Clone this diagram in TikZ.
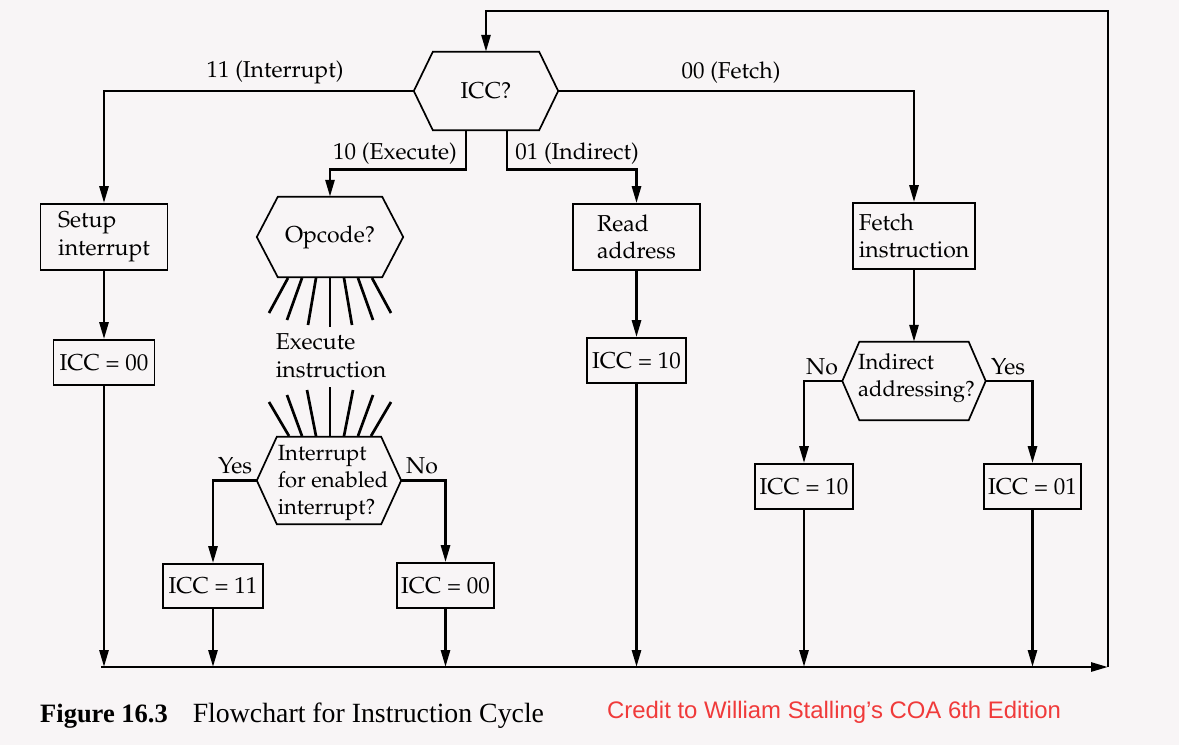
\documentclass[tikz,border=0pt]{standalone}
\usepackage[T1]{fontenc}
\usepackage{fontspec}
\newfontfamily\capfont{Liberation Serif}
\newfontfamily\creditfont{Liberation Sans}
\usetikzlibrary{arrows.meta,calc}
\definecolor{paper}{RGB}{248,245,246}
\definecolor{creditred}{RGB}{240,58,58}
\newcommand{\palfont}{\fontsize{23}{27.5}\usefont{T1}{ppl}{m}{n}}
\newcommand{\palsmall}{\fontsize{22}{27}\usefont{T1}{ppl}{m}{n}}
\newcommand{\hexof}[2]{\draw[boxline] (#1.west) -- ([xshift=#2]#1.north west) -- ([xshift=-#2]#1.north east) -- (#1.east) -- ([xshift=-#2]#1.south east) -- ([xshift=#2]#1.south west) -- cycle;}
\tikzset{
  boxline/.style={line width=1.7pt, line join=miter},
  box/.style 2 args={draw, boxline, minimum width=#1, minimum height=#2, inner sep=0pt, align=left, font=\palfont},
  hexn/.style 2 args={minimum width=#1, minimum height=#2, inner sep=0pt, align=left, font=\palfont},
  txt/.style={inner sep=0pt, align=left, font=\palfont},
  hextxt/.style={inner sep=0pt, align=left, font=\palsmall},
  lab/.style={inner sep=0pt, font=\palfont},
  conn/.style={line width=2.7pt},
  arr/.style={conn, -{Triangle[length=17pt,width=9pt]}},
  ray/.style={line width=2.7pt},
}
\begin{document}
\begin{tikzpicture}[x=1pt,y=-1pt]
\fill[paper] (0,0) rectangle (1179,745);
\useasboundingbox (0,0) rectangle (1179,745);

% decision and process nodes
\node[hexn={144pt}{78pt}] (icc) at (486,91) {ICC?};
\hexof{icc}{19pt}
\node[hexn={146pt}{80pt}] (opc) at (330,237) {Opcode?};
\hexof{opc}{21pt}
\node[box={127pt}{66pt}] (setup) at (104,237) {Setup\\interrupt};
\node[box={101pt}{45pt}] (c00a) at (104,362.5) {ICC = 00};
\node[box={127pt}{66pt}] (read) at (636.5,237) {Read\\address};
\node[box={99pt}{45pt}] (c10a) at (636.5,360.5) {ICC = 10};
\node[box={122pt}{66pt}] (fetch) at (914,236) {Fetch\\instruction};
\node[hexn={143pt}{78pt}] (ind) at (914,381) {};
\hexof{ind}{17pt}
\node[hextxt] (indtxt) at (916.5,378) {Indirect\\addressing?};
\node[box={98pt}{45pt}] (c10b) at (804,486.5) {ICC = 10};
\node[box={97pt}{45pt}] (c01) at (1032.5,486.5) {ICC = 01};
\node[txt] (exec) at (331,356) {Execute\\instruction};
\node[hexn={144pt}{87pt}] (intr) at (329,480.5) {};
\hexof{intr}{20pt}
\node[hextxt] (intrtxt) at (333,483) {Interrupt\\for enabled\\interrupt?};
\node[box={100pt}{44pt}] (c11) at (213,586) {ICC = 11};
\node[box={97pt}{45pt}] (c00b) at (445.5,585.5) {ICC = 00};

% labels
\node[lab] (l11) at (275,72) {11 (Interrupt)};
\node[lab] (l00) at (731,73) {00 (Fetch)};
\node[lab] (l10) at (395,154) {10 (Execute)};
\node[lab] (l01) at (577,154) {01 (Indirect)};
\node[lab] (lyes1) at (235,466) {Yes};
\node[lab] (lno1) at (422,466) {No};
\node[lab] (lno2) at (822,367) {No};
\node[lab] (lyes2) at (1008,367) {Yes};

% rays between Opcode? and Execute instruction
\foreach \a/\b/\yb in {-42/-61/313, -28/-43/320, -14/-22/325, 0/0/327, 14/22/325, 28/43/320, 42/61/313}{
  \draw[ray] (330+\a,278) -- (330+\b,\yb);
}
% rays between Execute instruction and interrupt decision
\foreach \a/\b/\yt in {-41/-61/402, -28/-43/395, -14/-23/390, 0/0/387, 14/23/390, 28/43/395, 41/61/402}{
  \draw[ray] (330+\a,436) -- (330+\b,\yt);
}

% coordinates of the return loop
\coordinate (bl) at (101,667);
\coordinate (br) at (1108,667);
\coordinate (tr) at (1108,11);

% connectors from ICC?
\draw[arr] (icc.west) -| (setup.north);
\draw[arr] (icc.east) -| (fetch.north);
\draw[arr] ([xshift=-20pt]icc.south) -- ++(0,39) -| (opc.north);
\draw[arr] ([xshift=21pt]icc.south) -- ++(0,39) -| (read.north);

% vertical flows
\draw[arr] (setup.south) -- (c00a.north);
\draw[arr] (read.south) -- (c10a.north);
\draw[arr] (fetch.south) -- (ind.north);
\draw[arr] (ind.west) -| (c10b.north);
\draw[arr] (ind.east) -| (c01.north);
\draw[arr] (intr.west) -| (c11.north);
\draw[arr] (intr.east) -| (c00b.north);

% into the bottom line
\draw[arr] (c00a.south) -- (c00a.south |- bl);
\draw[arr] (c11.south) -- (c11.south |- bl);
\draw[arr] (c00b.south) -- (c00b.south |- bl);
\draw[arr] (c10a.south) -- (c10a.south |- bl);
\draw[arr] (c10b.south) -- (c10b.south |- bl);
\draw[arr] (c01.south) -- (c01.south |- bl);

% bottom line and return loop
\draw[arr] (bl) -- (br);
\draw[arr] (br) -- (tr) -| (icc.north);

% caption and credit
\node[anchor=west, inner sep=0pt, font=\capfont\fontsize{26.5}{30}\selectfont] (cap) at (40,716) {\textbf{Figure 16.3}\hspace{25pt}{\fontsize{27.8}{30}\selectfont Flowchart for Instruction Cycle}};
\node[anchor=west, inner sep=0pt, text=creditred, font=\creditfont\fontsize{23.9}{27}\selectfont] (credit) at (607,712) {Credit to William Stalling’s COA 6th Edition};
\end{tikzpicture}
\end{document}
